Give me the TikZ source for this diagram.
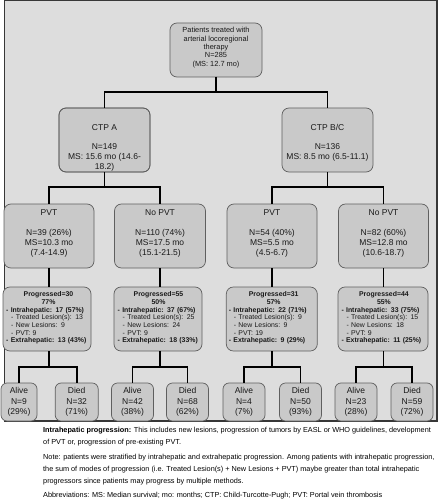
\documentclass[tikz,border=0pt]{standalone}
\usepackage{fontspec}
\setmainfont{Liberation Sans}
\definecolor{panelgray}{RGB}{221,221,221}
\definecolor{paneledge}{RGB}{55,55,55}
\definecolor{boxgray}{RGB}{201,201,201}
\definecolor{boxedge}{RGB}{95,95,95}
\definecolor{txtcol}{RGB}{25,25,25}
\newcommand{\myfs}[2]{\fontsize{#1}{#2}\selectfont}
\pgfdeclarelayer{bg}
\pgfsetlayers{bg,main}
\begin{document}
\begin{tikzpicture}[x=1pt,y=-1pt,
  gbox/.style={draw=boxedge, fill=boxgray, rounded corners=7pt, line width=0.7pt, inner sep=0pt, outer sep=0pt, minimum height=64pt},
  conn/.style={line width=1.7pt, black},
  rtxt/.style={align=center, inner sep=0pt, anchor=north, text=txtcol, font=\myfs{7.4}{8.3}},
  mtxt/.style={align=center, inner sep=0pt, anchor=north, text=txtcol, font=\myfs{8.5}{10.2}},
  ptxt/.style={align=left, inner sep=0pt, anchor=north west, text=txtcol, font=\myfs{6.9}{7.7}\bfseries},
  leaf/.style={gbox, rounded corners=6pt, minimum height=38pt, align=center, font=\myfs{8.5}{10.5}, text=txtcol},
  note/.style={anchor=base west, inner sep=0pt, text=black, font=\myfs{7.3}{9}}
]
\useasboundingbox (0,0) rectangle (438,500);
\fill[panelgray] (4.5,0.7) rectangle (437,421);
\draw[paneledge, line width=1.2pt] (4.5,0.7) rectangle (437,421);

% root
\node[gbox, minimum width=92pt, minimum height=54pt] (root) at (216,50) {};
\node[rtxt] (roott) at (216,27.3) {Patients treated with\\arterial locoregional\\therapy\\N=285\\(MS: 12.7 mo)};

% level 2
\node[gbox, minimum width=91pt] (ctpa) at (104.5,140) {};
\begin{scope}
\clip[rounded corners=7pt] (ctpa.south west) rectangle (ctpa.north east);
\node[mtxt] (ctpat) at (104.5,124.3) {CTP A\\[8.5pt]N=149\\MS: 15.6 mo (14.6-\\18.2)};
\end{scope}
\draw[draw=boxedge, line width=0.7pt, rounded corners=7pt] (ctpa.south west) rectangle (ctpa.north east);
\node[gbox, minimum width=91pt] (ctpb) at (327.5,140) {};
\node[mtxt] (ctpbt) at (327.5,124.3) {CTP B/C\\[8.5pt]N=136\\MS: 8.5 mo (6.5-11.1)};

% level 3
\node[gbox, minimum width=90pt] (pvta) at (49,236) {};
\node[mtxt] (pvtat) at (49,209.2) {PVT\\[10pt]N=39 (26\%)\\MS=10.3 mo\\(7.4-14.9)};
\node[gbox, minimum width=91pt] (npvta) at (160,236) {};
\node[mtxt] (npvtat) at (160,209.2) {No PVT\\[10pt]N=110 (74\%)\\MS=17.5 mo\\(15.1-21.5)};
\node[gbox, minimum width=90pt] (pvtb) at (272,236) {};
\node[mtxt] (pvtbt) at (272,209.2) {PVT\\[10pt]N=54 (40\%)\\MS=5.5 mo\\(4.5-6.7)};
\node[gbox, minimum width=90pt] (npvtb) at (383.5,236) {};
\node[mtxt] (npvtbt) at (383.5,209.2) {No PVT\\[10pt]N=82 (60\%)\\MS=12.8 mo\\(10.6-18.7)};

% progressed
\node[gbox, minimum width=88pt] (pa) at (47,319) {};
\node[ptxt, text width=84.6pt] (pat) at (6,291.5) {\makebox[84.6pt][c]{Progressed=30}\\\makebox[84.6pt][c]{77\%}\\- Intrahepatic: 17 (57\%)\\{\mdseries\hspace*{5pt}- Treated Lesion(s): 13}\\{\mdseries\hspace*{5pt}- New Lesions: 9}\\{\mdseries\hspace*{5pt}- PVT: 9}\\- Extrahepatic: 13 (43\%)};
\node[gbox, minimum width=88pt] (pb) at (158,319) {};
\node[ptxt, text width=81.6pt] (pbt) at (117.5,291.5) {\makebox[81.6pt][c]{Progressed=55}\\\makebox[81.6pt][c]{50\%}\\- Intrahepatic: 37 (67\%)\\{\mdseries\hspace*{5pt}- Treated Lesion(s): 25}\\{\mdseries\hspace*{5pt}- New Lesions: 24}\\{\mdseries\hspace*{5pt}- PVT: 9}\\- Extrahepatic: 18 (33\%)};
\node[gbox, minimum width=91pt] (pc) at (271.8,319) {};
\node[ptxt, text width=89.6pt] (pct) at (228.7,291.5) {\makebox[89.6pt][c]{Progressed=31}\\\makebox[89.6pt][c]{57\%}\\- Intrahepatic: 22 (71\%)\\{\mdseries\hspace*{5pt}- Treated Lesion(s): 9}\\{\mdseries\hspace*{5pt}- New Lesions: 9}\\{\mdseries\hspace*{5pt}- PVT: 19}\\- Extrahepatic: 9 (29\%)};
\node[gbox, minimum width=90pt] (pd) at (383,319) {};
\node[ptxt, text width=84.8pt] (pdt) at (341.3,291.5) {\makebox[84.8pt][c]{Progressed=44}\\\makebox[84.8pt][c]{55\%}\\- Intrahepatic: 33 (75\%)\\{\mdseries\hspace*{5pt}- Treated Lesion(s): 15}\\{\mdseries\hspace*{5pt}- New Lesions: 18}\\{\mdseries\hspace*{5pt}- PVT: 9}\\- Extrahepatic: 11 (25\%)};

% leaves
\node[leaf, minimum width=36pt] (la1) at (19,402) {Alive\\N=9\\(29\%)};
\node[leaf, minimum width=43pt] (ld1) at (76.7,402) {Died\\N=32\\(71\%)};
\node[leaf, minimum width=42pt] (la2) at (132.5,402) {Alive\\N=42\\(38\%)};
\node[leaf, minimum width=42pt] (ld2) at (187.5,402) {Died\\N=68\\(62\%)};
\node[leaf, minimum width=42pt] (la3) at (244,402) {Alive\\N=4\\(7\%)};
\node[leaf, minimum width=42pt] (ld3) at (300.5,402) {Died\\N=50\\(93\%)};
\node[leaf, minimum width=42pt] (la4) at (356,402) {Alive\\N=23\\(28\%)};
\node[leaf, minimum width=42pt] (ld4) at (412,402) {Died\\N=59\\(72\%)};

% connectors
\draw[conn] (root.south) -- ++(0,15) -| (ctpa.north);
\draw[conn] (root.south) -- ++(0,15) -| (ctpb.north);
\draw[conn] (ctpa.south) -- ++(0,15) -| (pvta.north);
\draw[conn] (ctpa.south) -- ++(0,15) -| (npvta.north);
\draw[conn] (ctpb.south) -- ++(0,15) -| (pvtb.north);
\draw[conn] (ctpb.south) -- ++(0,15) -| (npvtb.north);
\draw[conn] (pvta.south) -- (pvta.south |- pa.north);
\draw[conn] (npvta.south) -- (npvta.south |- pb.north);
\draw[conn] (pvtb.south) -- (pvtb.south |- pc.north);
\draw[conn] (npvtb.south) -- (npvtb.south |- pd.north);
\draw[conn] (pvta.south |- pa.south) -- ++(0,16) -| (la1.north);
\draw[conn] (pvta.south |- pa.south) -- ++(0,16) -| (ld1.north);
\draw[conn] (npvta.south |- pb.south) -- ++(0,16) -| (la2.north);
\draw[conn] (npvta.south |- pb.south) -- ++(0,16) -| (ld2.north);
\draw[conn] (pvtb.south |- pc.south) -- ++(0,16) -| (la3.north);
\draw[conn] (pvtb.south |- pc.south) -- ++(0,16) -| (ld3.north);
\draw[conn] (npvtb.south |- pd.south) -- ++(0,16) -| (la4.north);
\draw[conn] (npvtb.south |- pd.south) -- ++(0,16) -| (ld4.north);

% notes
\node[note] (n1) at (43,432) {\textbf{Intrahepatic progression:} This includes new lesions, progression of tumors by EASL or WHO guidelines, development};
\node[note] (n2) at (43,444) {of PVT or, progression of pre-existing PVT.};
\node[note] (n3) at (43,459.5) {Note: patients were stratified by intrahepatic and extrahepatic progression. Among patients with intrahepatic progression,};
\node[note] (n4) at (43,471.5) {the sum of modes of progression (i.e. Treated Lesion(s) + New Lesions + PVT) maybe greater than total intrahepatic};
\node[note] (n5) at (43,483.5) {progressors since patients may progress by multiple methods.};
\node[note] (n6) at (43,497) {Abbreviations: MS: Median survival; mo: months; CTP: Child-Turcotte-Pugh; PVT: Portal vein thrombosis};
\end{tikzpicture}
\end{document}
